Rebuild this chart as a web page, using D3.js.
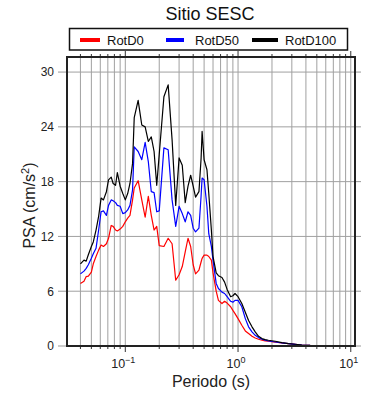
<!DOCTYPE html>
<html lang="es">
<head>
    <meta charset="UTF-8">
    <script src="https://cdn.jsdelivr.net/npm/d3@7/dist/d3.min.js"></script>
    <title>Sitio SESC</title>
    <style>
        * { margin: 0; padding: 0; }
        body { background: #fff; }
        svg { display: block; font-family: "Liberation Sans", Arial, sans-serif; }
    </style>
</head>
<body>
<div id="chart"></div>
<script type="text/javascript">
  var periods = [0.04, 0.043, 0.045, 0.047, 0.05, 0.052, 0.055, 0.058, 0.061, 0.064,
    0.068, 0.071, 0.075, 0.078, 0.082, 0.085, 0.09, 0.095, 0.1, 0.105,
    0.11, 0.116, 0.12, 0.13, 0.14, 0.15, 0.16, 0.17, 0.18, 0.19,
    0.2, 0.22, 0.24, 0.26, 0.28, 0.3, 0.32, 0.34, 0.36, 0.38,
    0.4, 0.42, 0.45, 0.47, 0.48, 0.5, 0.53, 0.55, 0.58, 0.6,
    0.64, 0.67, 0.72, 0.76, 0.8, 0.86, 0.9, 0.94, 1.0, 1.08,
    1.16, 1.24, 1.33, 1.42, 1.52, 1.63, 1.74, 1.86, 2.14, 2.45,
    2.8, 3.21, 3.68, 4.36, 5.35, 6.56, 8.05, 10];

  var rotD100 = [9.0, 9.4, 9.3, 10.0, 10.9, 11.4, 12.7, 14.2, 16.2, 16.0,
    16.9, 18.2, 18.5, 17.8, 17.6, 19.0, 17.5, 16.7, 16.0, 16.7,
    17.8, 20.0, 25.0, 26.9, 24.2, 24.0, 22.4, 22.9, 21.3, 17.6,
    21.0, 27.3, 28.6, 22.6, 15.4, 20.6, 19.8, 15.7, 17.5, 18.7,
    17.5, 16.3, 16.9, 20.5, 23.5, 20.4, 19.3, 16.7, 12.7, 9.8,
    8.0, 7.7, 7.5, 7.0, 6.2, 5.4, 5.5, 5.75, 5.4, 4.65,
    3.7, 2.8, 2.1, 1.55, 1.06, 0.81, 0.70, 0.63, 0.52, 0.37,
    0.26, 0.19, 0.11, 0.07, 0.05, 0.03, 0.02, 0.02];

  var rotD50 = [7.9, 8.2, 8.5, 8.9, 9.6, 10.1, 10.7, 12.7, 14.7, 14.8,
    14.3, 15.4, 16.0, 15.9, 15.7, 15.4, 15.3, 14.5, 14.6, 14.9,
    15.4, 17.1, 21.8, 21.3, 20.4, 22.3, 20.2, 16.9, 16.8, 14.7,
    14.8, 21.7, 21.5, 16.0, 13.1, 15.3, 14.5, 13.6, 14.7, 14.3,
    12.9, 12.5, 12.9, 16.4, 18.4, 18.2, 15.3, 12.3, 10.9, 9.4,
    6.85, 6.3, 5.9, 5.75, 5.4, 4.9, 4.8, 5.0, 5.0, 4.3,
    3.0, 2.1, 1.55, 1.17, 0.92, 0.74, 0.64, 0.55, 0.44, 0.34,
    0.26, 0.18, 0.11, 0.07, 0.05, 0.03, 0.02, 0.02];

  var rotD0 = [6.85, 7.1, 7.6, 7.65, 8.1, 9.0, 9.8, 10.5, 11.05, 10.9,
    11.2, 11.8, 13.2, 13.1, 12.7, 12.6, 12.8, 13.1, 13.6, 14.0,
    14.3, 16.0, 17.3, 18.1, 16.0, 14.1, 16.4, 14.3, 12.7, 13.1,
    11.0, 10.9, 11.8, 11.2, 7.2, 7.8, 8.7, 10.3, 11.8, 10.9,
    8.9, 7.9, 8.3, 9.2, 9.6, 9.95, 9.95, 9.8, 9.4, 8.0,
    6.0, 5.0, 4.65, 4.9, 4.7, 4.3, 3.9, 3.55, 3.0, 2.27,
    1.65, 1.36, 1.06, 0.88, 0.74, 0.63, 0.57, 0.52, 0.42, 0.33,
    0.25, 0.19, 0.11, 0.07, 0.05, 0.03, 0.02, 0.02];

  var seriesNames = ['RotD0', 'RotD50', 'RotD100'];
  var seriesColors = ['#ff0000', '#0000ff', '#000000'];
  var seriesValues = [rotD0, rotD50, rotD100];
  var yTicks = [0, 6, 12, 18, 24, 30];
  var xMajorTicks = [0.1, 1, 10];
  var xExponents = ['\u22121', '0', '1'];

  var width = 390, height = 400;
  var margin = { top: 57, right: 35, bottom: 54, left: 67 };
  var plotW = width - margin.left - margin.right;
  var plotH = height - margin.top - margin.bottom;

  var x = d3.scaleLog().domain([0.0304, 10.9]).range([0, plotW]);
  var y = d3.scaleLinear().domain([0, 31.65]).range([plotH, 0]);

  // all log ticks inside the domain (1..9 per decade)
  var minorTicks = [];
  for (var e = -2; e <= 1; e++) {
    for (var m = 1; m <= 9; m++) {
      var v = m * Math.pow(10, e);
      if (v >= x.domain()[0] && v <= x.domain()[1]) minorTicks.push(v);
    }
  }

  var svg = d3.select('#chart').append('svg')
    .attr('width', width)
    .attr('height', height);

  var g = svg.append('g')
    .attr('transform', 'translate(' + margin.left + ',' + margin.top + ')');

  // grid
  g.append('g').selectAll('line.vgrid')
    .data(minorTicks)
    .enter().append('line')
    .attr('x1', function (d) { return x(d); })
    .attr('x2', function (d) { return x(d); })
    .attr('y1', 0)
    .attr('y2', plotH)
    .attr('stroke', '#a0a0a0')
    .attr('stroke-width', 1);

  g.append('g').selectAll('line.hgrid')
    .data(yTicks.slice(1))
    .enter().append('line')
    .attr('x1', 0)
    .attr('x2', plotW)
    .attr('y1', function (d) { return y(d); })
    .attr('y2', function (d) { return y(d); })
    .attr('stroke', '#a0a0a0')
    .attr('stroke-width', 1);

  // ticks outside the frame
  var tickColor = '#333';
  function isMajor(d) {
    return xMajorTicks.indexOf(d) >= 0;
  }
  g.append('g').selectAll('line')
    .data(minorTicks)
    .enter().append('line')
    .attr('x1', function (d) { return x(d); })
    .attr('x2', function (d) { return x(d); })
    .attr('y1', plotH)
    .attr('y2', function (d) { return plotH + (isMajor(d) ? 6 : 3); })
    .attr('stroke', tickColor);
  g.append('g').selectAll('line')
    .data(minorTicks)
    .enter().append('line')
    .attr('x1', function (d) { return x(d); })
    .attr('x2', function (d) { return x(d); })
    .attr('y1', 0)
    .attr('y2', function (d) { return isMajor(d) ? -6 : -3; })
    .attr('stroke', tickColor);
  g.append('g').selectAll('line')
    .data(yTicks)
    .enter().append('line')
    .attr('x1', -9)
    .attr('x2', 0)
    .attr('y1', function (d) { return y(d); })
    .attr('y2', function (d) { return y(d); })
    .attr('stroke', '#999');
  g.append('g').selectAll('line')
    .data(yTicks)
    .enter().append('line')
    .attr('x1', plotW)
    .attr('x2', plotW + 6)
    .attr('y1', function (d) { return y(d); })
    .attr('y2', function (d) { return y(d); })
    .attr('stroke', '#999');

  // curves
  var line = d3.line()
    .x(function (d) { return x(d[0]); })
    .y(function (d) { return y(d[1]); });

  var clip = svg.append('clipPath').attr('id', 'clip')
    .append('rect').attr('width', plotW).attr('height', plotH);

  seriesValues.forEach(function (vals, i) {
    g.append('path')
      .datum(periods.map(function (p, k) { return [p, vals[k]]; }))
      .attr('d', line)
      .attr('fill', 'none')
      .attr('stroke', seriesColors[i])
      .attr('stroke-width', 1.2)
      .attr('stroke-linejoin', 'round')
      .attr('clip-path', 'url(#clip)');
  });

  // frame
  g.append('rect')
    .attr('width', plotW)
    .attr('height', plotH)
    .attr('fill', 'none')
    .attr('stroke', '#222')
    .attr('stroke-width', 2);

  // y labels
  g.append('g').selectAll('text')
    .data(yTicks)
    .enter().append('text')
    .attr('x', -13)
    .attr('y', function (d) { return y(d); })
    .attr('dy', '0.36em')
    .attr('text-anchor', 'end')
    .attr('font-size', 12)
    .attr('fill', '#222')
    .text(function (d) { return d; });

  // x labels: 10^e
  var xl = g.append('g').selectAll('text')
    .data(xMajorTicks)
    .enter().append('text')
    .attr('x', function (d) { return x(d) - 2; })
    .attr('y', plotH + 22)
    .attr('text-anchor', 'middle')
    .attr('font-size', 12.5)
    .attr('fill', '#222');
  xl.append('tspan').text('10');
  xl.append('tspan')
    .attr('dy', -5)
    .attr('font-size', 9)
    .text(function (d, i) { return xExponents[i]; });

  // axis titles
  svg.append('text')
    .attr('x', margin.left + plotW / 2)
    .attr('y', 387)
    .attr('text-anchor', 'middle')
    .attr('font-size', 16)
    .attr('fill', '#222')
    .text('Periodo (s)');

  var yt = svg.append('text')
    .attr('transform', 'translate(35,' + (margin.top + plotH / 2 + 4) + ') rotate(-90)')
    .attr('text-anchor', 'middle')
    .attr('font-size', 16)
    .attr('fill', '#222');
  yt.append('tspan').text('PSA (cm/s');
  yt.append('tspan').attr('dy', -6).attr('font-size', 11).text('2');
  yt.append('tspan').attr('dy', 6).text(')');

  // title
  svg.append('text')
    .attr('x', 210)
    .attr('y', 19.5)
    .attr('text-anchor', 'middle')
    .attr('font-size', 18)
    .attr('fill', '#111')
    .text('Sitio SESC');

  // legend
  var legend = svg.append('g');
  legend.append('rect')
    .attr('x', 69.5)
    .attr('y', 28.5)
    .attr('width', 278)
    .attr('height', 21.5)
    .attr('fill', '#fff')
    .attr('stroke', '#111')
    .attr('stroke-width', 1.5);
  var legendX = [80, 166, 252];
  var legendLen = [20, 18, 26];
  var legendTextX = [107, 195, 285];
  seriesNames.forEach(function (name, i) {
    legend.append('line')
      .attr('x1', legendX[i])
      .attr('x2', legendX[i] + legendLen[i])
      .attr('y1', 40)
      .attr('y2', 40)
      .attr('stroke', seriesColors[i])
      .attr('stroke-width', 4);
    legend.append('text')
      .attr('x', legendTextX[i])
      .attr('y', 44.5)
      .attr('font-size', 13)
      .attr('fill', '#111')
      .text(name);
  });
</script>
</body>
</html>
